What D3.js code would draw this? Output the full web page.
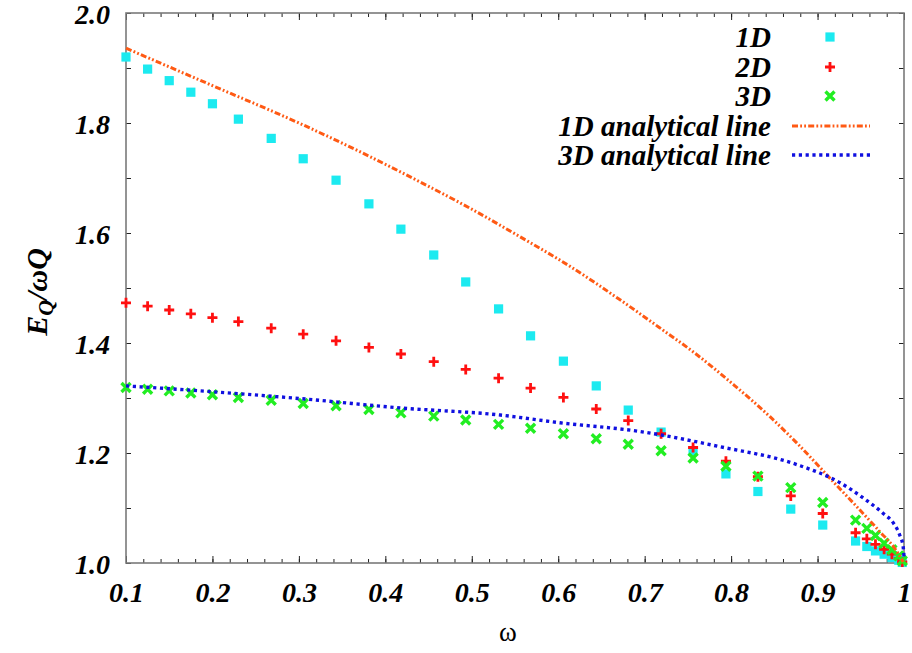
<!DOCTYPE html>
<html>
<head>
<meta charset="utf-8">
<script src="https://cdn.jsdelivr.net/npm/d3@7/dist/d3.min.js"></script>
<style>
  html, body { margin: 0; padding: 0; background: #fff; }
  svg { display: block; }
</style>
</head>
<body>
<div id="chart"></div>
<script>
// Sampled frequencies (omega) of the numerical Q-ball solutions
const omega = [0.1, 0.125, 0.15, 0.175, 0.2, 0.23, 0.268, 0.305, 0.343, 0.381, 0.418,
  0.456, 0.493, 0.531, 0.568, 0.606, 0.644, 0.681, 0.719, 0.756, 0.794, 0.831,
  0.869, 0.906, 0.944, 0.957, 0.967, 0.977, 0.986, 0.994, 0.998];

// E_Q / (omega Q) for each dimension
const series1D = [1.92, 1.898, 1.877, 1.856, 1.835, 1.807, 1.772, 1.735, 1.696, 1.653, 1.607,
  1.56, 1.511, 1.462, 1.413, 1.367, 1.322, 1.278, 1.238, 1.203, 1.162, 1.13,
  1.098, 1.069, 1.04, 1.03, 1.022, 1.016, 1.01, 1.005, 1.001];
const series2D = [1.473, 1.467, 1.46, 1.453, 1.446, 1.439, 1.427, 1.416, 1.404, 1.392, 1.38,
  1.366, 1.352, 1.336, 1.318, 1.301, 1.28, 1.259, 1.235, 1.21, 1.185, 1.157,
  1.122, 1.09, 1.055, 1.044, 1.034, 1.025, 1.016, 1.008, 1.002];
const series3D = [1.319, 1.316, 1.313, 1.309, 1.306, 1.301, 1.296, 1.29, 1.286, 1.279, 1.273,
  1.267, 1.26, 1.252, 1.245, 1.235, 1.226, 1.216, 1.204, 1.191, 1.176, 1.158,
  1.137, 1.11, 1.078, 1.063, 1.05, 1.036, 1.024, 1.013, 1.004];

// Analytical curves
const omegaLine1D = [0.1, 0.2, 0.3, 0.382, 0.44, 0.498, 0.556, 0.614, 0.672, 0.718, 0.756,
  0.803, 0.845, 0.878, 0.918, 0.945, 0.972, 0.99, 0.999];
const line1D = [1.936, 1.868, 1.80, 1.739, 1.693, 1.645, 1.593, 1.539, 1.478, 1.427, 1.384,
  1.324, 1.266, 1.215, 1.148, 1.103, 1.057, 1.025, 1.002];
const omegaLine3D = [0.1, 0.186, 0.301, 0.417, 0.533, 0.602, 0.695, 0.787, 0.876, 0.926,
  0.953, 0.976, 0.988, 0.995, 0.999, 1.0];
const line3D = [1.322, 1.313, 1.299, 1.282, 1.269, 1.255, 1.239, 1.2115, 1.179, 1.146,
  1.118, 1.09, 1.072, 1.051, 1.03, 1.012];

// Axis ticks and labels
const xTickValues = [0.1, 0.2, 0.3, 0.4, 0.5, 0.6, 0.7, 0.8, 0.9, 1.0];
const xTickLabels = ["0.1", "0.2", "0.3", "0.4", "0.5", "0.6", "0.7", "0.8", "0.9", "1"];
const yTickValues = [1.0, 1.2, 1.4, 1.6, 1.8, 2.0];
const yTickLabels = ["1.0", "1.2", "1.4", "1.6", "1.8", "2.0"];
const legendLabels = ["1D", "2D", "3D", "1D analytical line", "3D analytical line"];

const W = 912, H = 653;
const plotL = 126, plotR = 904, plotT = 13, plotB = 563;
const SERIF = "Liberation Serif";

// bold italic serif text style
function styleLabel(sel, size) {
  return sel.attr("font-family", SERIF).attr("font-weight", "bold")
    .attr("font-style", "italic").attr("font-size", size || 28).attr("fill", "#000");
}

const svg = d3.select("#chart").append("svg").attr("width", W).attr("height", H);

const x = d3.scaleLinear().domain([0.1, 1]).range([plotL, plotR]);
const y = d3.scaleLinear().domain([1, 2]).range([plotB, plotT]);

const xMinor = d3.range(0, 46).map(i => 0.1 + i * 0.02).filter(v => v <= 1.0001);
const yMinor = d3.range(0, 11).map(i => 1 + i * 0.1);

// minor ticks (bottom / top)
svg.append("g").attr("transform", `translate(0,${plotB})`)
  .call(d3.axisBottom(x).tickValues(xMinor).tickSize(-4).tickFormat(""))
  .call(g => g.select(".domain").remove());
svg.append("g").attr("transform", `translate(0,${plotT})`)
  .call(d3.axisTop(x).tickValues(xMinor).tickSize(-4).tickFormat(""))
  .call(g => g.select(".domain").remove());

// major x ticks with labels
const xAxis = svg.append("g").attr("transform", `translate(0,${plotB})`)
  .call(d3.axisBottom(x).tickValues(xTickValues).tickSize(-7).tickPadding(19)
    .tickFormat((d, i) => xTickLabels[i]));
xAxis.select(".domain").remove();
styleLabel(xAxis.selectAll("text"));

svg.append("g").attr("transform", `translate(0,${plotT})`)
  .call(d3.axisTop(x).tickValues(xTickValues).tickSize(-7).tickFormat(""))
  .call(g => g.select(".domain").remove());

// y ticks: every 0.1 on both sides, labels every 0.2
svg.append("g").attr("transform", `translate(${plotL},0)`)
  .call(d3.axisLeft(y).tickValues(yMinor).tickSize(-5).tickFormat(""))
  .call(g => g.select(".domain").remove());
svg.append("g").attr("transform", `translate(${plotR},0)`)
  .call(d3.axisRight(y).tickValues(yMinor).tickSize(-5).tickFormat(""))
  .call(g => g.select(".domain").remove());
const yAxis = svg.append("g").attr("transform", `translate(${plotL},0)`)
  .call(d3.axisLeft(y).tickValues(yTickValues).tickSize(0).tickPadding(16)
    .tickFormat((d, i) => yTickLabels[i]));
yAxis.select(".domain").remove();
styleLabel(yAxis.selectAll("text"));
yAxis.selectAll("text").attr("dy", "0.36em");

svg.selectAll(".tick line").attr("stroke", "#222").attr("stroke-width", 1);

// frame
svg.append("rect").attr("x", plotL).attr("y", plotT)
  .attr("width", plotR - plotL).attr("height", plotB - plotT)
  .attr("fill", "none").attr("stroke", "#7a7a7a").attr("stroke-width", 1.6);

// axis titles
svg.append("text").attr("x", 508).attr("y", 641).attr("text-anchor", "middle")
  .attr("font-family", SERIF).attr("font-size", 27).attr("fill", "#000").text("ω");

const yt = styleLabel(svg.append("text"), 30)
  .attr("transform", "translate(47,292) rotate(-90)").attr("text-anchor", "middle");
yt.append("tspan").text("E");
yt.append("tspan").attr("font-size", 22).attr("dy", 6).text("Q");
yt.append("tspan").attr("dy", -6).text("/ωQ");

// marker renderers
const cyan = "#1ceaf0", red = "#ff1010", green = "#22ee22";
const orange = "#ff5a14", blue = "#1010e0";

function square(g, cx, cy) {
  g.append("rect").attr("x", cx - 4.6).attr("y", cy - 4.6).attr("width", 9.2).attr("height", 9.2).attr("fill", cyan);
}
function plus(g, cx, cy) {
  g.append("path").attr("d", `M${cx - 5},${cy}H${cx + 5}M${cx},${cy - 5}V${cy + 5}`)
    .attr("stroke", red).attr("stroke-width", 2.8).attr("fill", "none");
}
function cross(g, cx, cy) {
  g.append("path").attr("d", `M${cx - 4.5},${cy - 4.5}L${cx + 4.5},${cy + 4.5}M${cx - 4.5},${cy + 4.5}L${cx + 4.5},${cy - 4.5}`)
    .attr("stroke", green).attr("stroke-width", 3.4).attr("fill", "none");
}

const pts = svg.append("g");
const g1 = pts.append("g"), g2 = pts.append("g"), g3 = pts.append("g");
omega.forEach((w, i) => square(g1, x(w), y(series1D[i])));
omega.forEach((w, i) => plus(g2, x(w), y(series2D[i])));
omega.forEach((w, i) => cross(g3, x(w), y(series3D[i])));

const lineGen = d3.line().x(d => x(d[0])).y(d => y(d[1])).curve(d3.curveMonotoneX);
const dash1D = "6,2.2,1.8,2.2,1.8,2.2";
const dash3D = "3.2,3.6";

svg.append("path").datum(omegaLine1D.map((w, i) => [w, line1D[i]]))
  .attr("d", lineGen).attr("fill", "none").attr("stroke", orange)
  .attr("stroke-width", 3).attr("stroke-dasharray", dash1D);
svg.append("path").datum(omegaLine3D.map((w, i) => [w, line3D[i]]))
  .attr("d", lineGen).attr("fill", "none").attr("stroke", blue)
  .attr("stroke-width", 3.4).attr("stroke-dasharray", dash3D);

// legend
const legX = 771, legSym = 830, rowY = [37, 67, 96, 126, 155];
const leg = svg.append("g");
legendLabels.forEach((t, i) => {
  styleLabel(leg.append("text"), 29).attr("x", legX).attr("y", rowY[i])
    .attr("dy", "0.35em").attr("text-anchor", "end").text(t);
});
square(leg, legSym, rowY[0]);
plus(leg, legSym, rowY[1]);
cross(leg, legSym, rowY[2]);
leg.append("line").attr("x1", 792).attr("x2", 870).attr("y1", rowY[3]).attr("y2", rowY[3])
  .attr("stroke", orange).attr("stroke-width", 3).attr("stroke-dasharray", dash1D);
leg.append("line").attr("x1", 792).attr("x2", 870).attr("y1", rowY[4]).attr("y2", rowY[4])
  .attr("stroke", blue).attr("stroke-width", 3.4).attr("stroke-dasharray", dash3D);
</script>
</body>
</html>
